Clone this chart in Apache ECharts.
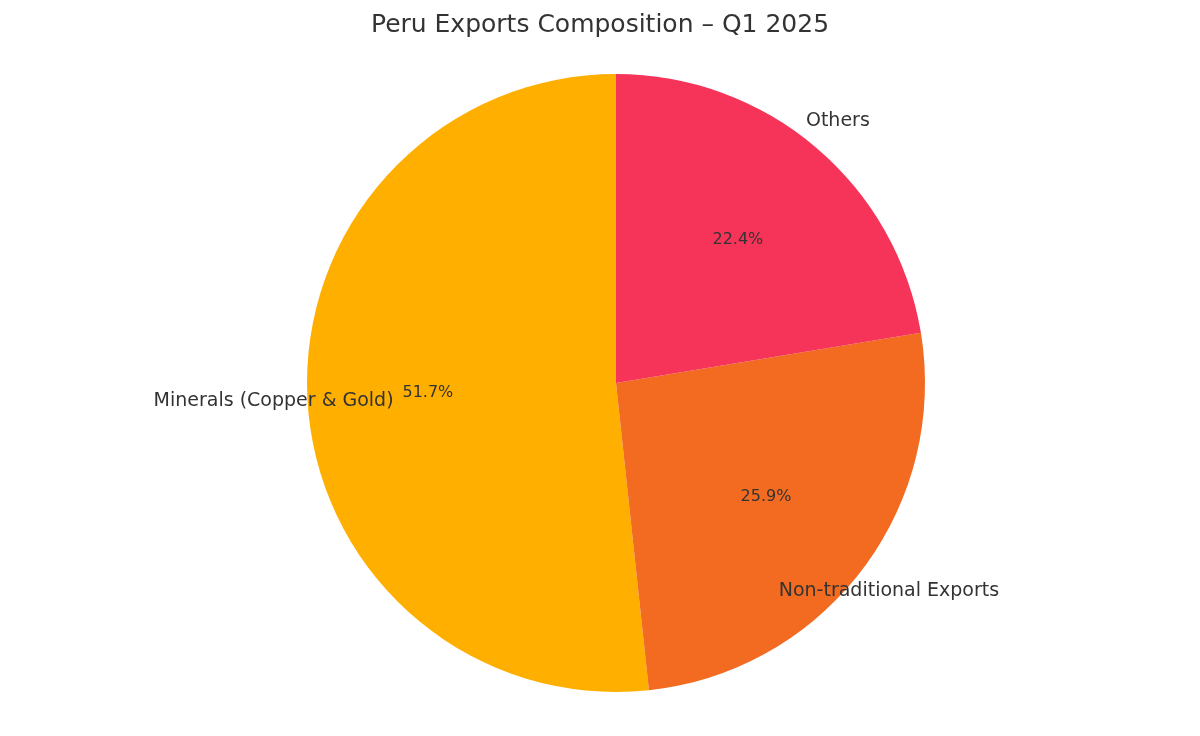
<!DOCTYPE html>
<html><head><meta charset="utf-8">
<script src="https://cdn.jsdelivr.net/npm/echarts@6/dist/echarts.min.js"></script>
<style>html,body{margin:0;padding:0;background:#fff}#c{width:1200px;height:736px}</style>
</head><body><div id="c"></div>
<script>
const categories = ["Minerals (Copper & Gold)", "Non-traditional Exports", "Others"];
const values = [51.7, 25.9, 22.4];
const colors = ["#FFAF00", "#F26B21", "#F63358"];
const nameAligns = ["right", "left", "left"];

const chart = echarts.init(document.getElementById('c'));
const R = 309;
const font = "DejaVu Sans";
chart.setOption({
  animation: false,
  title: { text: "Peru Exports Composition – Q1 2025", left: 'center', top: 8,
    textStyle: { fontFamily: font, fontSize: 25, fontWeight: 'normal', color: '#333' } },
  series: [
    { type: 'pie', center: [616, 383], radius: [0, R], startAngle: 90, clockwise: false,
      silent: true, label: { show: false }, labelLine: { show: false },
      data: categories.map((n, i) => ({ name: n, value: values[i], itemStyle: { color: colors[i] } })) },
    { type: 'pie', center: [616, 383], radius: [0, R * 1.2], startAngle: 90, clockwise: false,
      silent: true, itemStyle: { color: 'transparent' }, labelLine: { show: false },
      label: { show: true, position: 'inside', formatter: p => p.value.toFixed(1) + '%',
        fontFamily: font, fontSize: 16, color: '#333' },
      data: categories.map((n, i) => ({ name: n, value: values[i] })) },
    { type: 'pie', center: [616, 383], radius: [0, R * 2.2], startAngle: 90, clockwise: false,
      silent: true, itemStyle: { color: 'transparent' }, labelLine: { show: false },
      label: { show: true, position: 'inside', formatter: '{b}',
        fontFamily: font, fontSize: 19, color: '#333' },
      data: categories.map((n, i) => ({ name: n, value: values[i], label: { align: nameAligns[i] } })) }
  ]
});
</script></body></html>
